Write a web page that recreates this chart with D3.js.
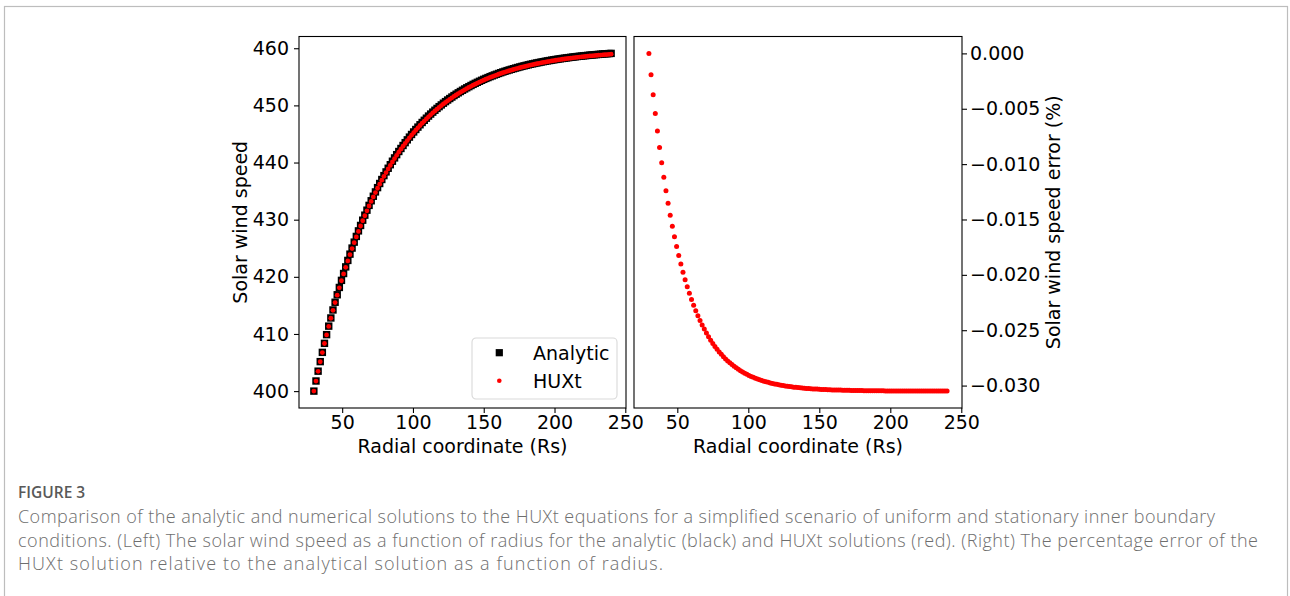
<!DOCTYPE html>
<html>
<head>
<meta charset="utf-8">
<script src="https://cdn.jsdelivr.net/npm/d3@7"></script>
<style>
  body { margin: 0; background: #fff; }
  .axis text { font-family: 'DejaVu Sans', sans-serif; font-size: 19px; fill: #000; }
  .axis line { stroke: #000; stroke-width: 1.1; }
  .caption { font-family: 'Open Sans', sans-serif; }
</style>
</head>
<body>
<div id="chart"></div>
<script>
// radial grid of the model (Rs)
var radius = [
  30, 31.5, 33, 34.5, 36, 37.5, 39, 40.5, 42, 43.5,
  45, 46.5, 48, 49.5, 51, 52.5, 54, 55.5, 57, 58.5,
  60, 61.5, 63, 64.5, 66, 67.5, 69, 70.5, 72, 73.5,
  75, 76.5, 78, 79.5, 81, 82.5, 84, 85.5, 87, 88.5,
  90, 91.5, 93, 94.5, 96, 97.5, 99, 100.5, 102, 103.5,
  105, 106.5, 108, 109.5, 111, 112.5, 114, 115.5, 117, 118.5,
  120, 121.5, 123, 124.5, 126, 127.5, 129, 130.5, 132, 133.5,
  135, 136.5, 138, 139.5, 141, 142.5, 144, 145.5, 147, 148.5,
  150, 151.5, 153, 154.5, 156, 157.5, 159, 160.5, 162, 163.5,
  165, 166.5, 168, 169.5, 171, 172.5, 174, 175.5, 177, 178.5,
  180, 181.5, 183, 184.5, 186, 187.5, 189, 190.5, 192, 193.5,
  195, 196.5, 198, 199.5, 201, 202.5, 204, 205.5, 207, 208.5,
  210, 211.5, 213, 214.5, 216, 217.5, 219, 220.5, 222, 223.5,
  225, 226.5, 228, 229.5, 231, 232.5, 234, 235.5, 237, 238.5,
  240
];

var analyticSpeed = [
  400.00, 401.77, 403.49, 405.16, 406.78, 408.36, 409.88, 411.37, 412.80, 414.20,
  415.55, 416.86, 418.14, 419.38, 420.58, 421.74, 422.87, 423.97, 425.03, 426.07,
  427.07, 428.04, 428.99, 429.91, 430.79, 431.66, 432.50, 433.31, 434.10, 434.86,
  435.61, 436.33, 437.03, 437.71, 438.36, 439.00, 439.62, 440.23, 440.81, 441.38,
  441.93, 442.46, 442.98, 443.48, 443.97, 444.45, 444.91, 445.35, 445.78, 446.20,
  446.61, 447.01, 447.39, 447.76, 448.13, 448.48, 448.82, 449.15, 449.47, 449.78,
  450.08, 450.38, 450.66, 450.94, 451.20, 451.46, 451.72, 451.96, 452.20, 452.43,
  452.65, 452.87, 453.08, 453.28, 453.48, 453.68, 453.86, 454.04, 454.22, 454.39,
  454.56, 454.72, 454.87, 455.03, 455.17, 455.32, 455.45, 455.59, 455.72, 455.85,
  455.97, 456.09, 456.20, 456.31, 456.42, 456.53, 456.63, 456.73, 456.83, 456.92,
  457.01, 457.10, 457.19, 457.27, 457.35, 457.43, 457.50, 457.58, 457.65, 457.72,
  457.79, 457.85, 457.92, 457.98, 458.04, 458.10, 458.15, 458.21, 458.26, 458.31,
  458.36, 458.41, 458.46, 458.50, 458.55, 458.59, 458.63, 458.67, 458.71, 458.75,
  458.79, 458.82, 458.86, 458.89, 458.92, 458.95, 458.99, 459.02, 459.04, 459.07,
  459.10
];

var huxtSpeed = [
  400.00, 401.76, 403.47, 405.14, 406.75, 408.33, 409.84, 411.32, 412.75, 414.14,
  415.49, 416.79, 418.07, 419.31, 420.50, 421.66, 422.79, 423.88, 424.94, 425.98,
  426.98, 427.94, 428.89, 429.81, 430.69, 431.55, 432.39, 433.20, 433.99, 434.75,
  435.50, 436.21, 436.91, 437.59, 438.24, 438.88, 439.50, 440.11, 440.69, 441.26,
  441.81, 442.33, 442.85, 443.35, 443.84, 444.32, 444.78, 445.22, 445.65, 446.07,
  446.48, 446.88, 447.26, 447.63, 448.00, 448.35, 448.69, 449.02, 449.34, 449.65,
  449.95, 450.25, 450.52, 450.80, 451.06, 451.32, 451.58, 451.82, 452.06, 452.29,
  452.51, 452.73, 452.94, 453.14, 453.34, 453.54, 453.72, 453.90, 454.08, 454.25,
  454.42, 454.58, 454.73, 454.89, 455.03, 455.18, 455.31, 455.45, 455.58, 455.71,
  455.83, 455.95, 456.06, 456.17, 456.28, 456.39, 456.49, 456.59, 456.69, 456.78,
  456.87, 456.96, 457.05, 457.13, 457.21, 457.29, 457.36, 457.44, 457.51, 457.58,
  457.65, 457.71, 457.78, 457.84, 457.90, 457.96, 458.01, 458.07, 458.12, 458.17,
  458.22, 458.27, 458.32, 458.36, 458.41, 458.45, 458.49, 458.53, 458.57, 458.61,
  458.65, 458.68, 458.72, 458.75, 458.78, 458.81, 458.85, 458.88, 458.90, 458.93,
  458.96
];

// percentage error of HUXt relative to the analytic solution
var speedError = [
  0, -0.00193, -0.00373, -0.00542, -0.00700, -0.00849, -0.00988, -0.01118, -0.01240, -0.01354,
  -0.01461, -0.01562, -0.01656, -0.01744, -0.01826, -0.01903, -0.01976, -0.02044, -0.02107, -0.02167,
  -0.02222, -0.02275, -0.02324, -0.02370, -0.02412, -0.02453, -0.02490, -0.02526, -0.02559, -0.02590,
  -0.02619, -0.02646, -0.02672, -0.02696, -0.02718, -0.02739, -0.02759, -0.02777, -0.02794, -0.02810,
  -0.02825, -0.02840, -0.02853, -0.02865, -0.02877, -0.02888, -0.02898, -0.02908, -0.02917, -0.02925,
  -0.02933, -0.02940, -0.02947, -0.02954, -0.02960, -0.02966, -0.02971, -0.02976, -0.02981, -0.02985,
  -0.02989, -0.02993, -0.02997, -0.03000, -0.03003, -0.03006, -0.03009, -0.03011, -0.03014, -0.03016,
  -0.03018, -0.03020, -0.03022, -0.03024, -0.03026, -0.03027, -0.03029, -0.03030, -0.03031, -0.03032,
  -0.03033, -0.03035, -0.03035, -0.03036, -0.03037, -0.03038, -0.03039, -0.03040, -0.03040, -0.03041,
  -0.03041, -0.03042, -0.03042, -0.03043, -0.03043, -0.03044, -0.03044, -0.03044, -0.03045, -0.03045,
  -0.03045, -0.03046, -0.03046, -0.03046, -0.03046, -0.03046, -0.03047, -0.03047, -0.03047, -0.03047,
  -0.03047, -0.03048, -0.03048, -0.03048, -0.03048, -0.03048, -0.03048, -0.03048, -0.03049, -0.03049,
  -0.03049, -0.03049, -0.03049, -0.03049, -0.03049, -0.03049, -0.03049, -0.03049, -0.03049, -0.03050,
  -0.03050, -0.03050, -0.03050, -0.03050, -0.03050, -0.03050, -0.03050, -0.03050, -0.03050, -0.03050,
  -0.03050
];

var xTicks = [50, 100, 150, 200, 250];
var speedTicks = [400, 410, 420, 430, 440, 450, 460];
var errorTicks = [0, -0.005, -0.010, -0.015, -0.020, -0.025, -0.030];
var legendLabels = ['Analytic', 'HUXt'];

var captionTitle = 'FIGURE 3';
var captionLines = [
  'Comparison of the analytic and numerical solutions to the HUXt equations for a simplified scenario of uniform and stationary inner boundary',
  'conditions. (Left) The solar wind speed as a function of radius for the analytic (black) and HUXt solutions (red). (Right) The percentage error of the',
  'HUXt solution relative to the analytical solution as a function of radius.'
];
// line widths as they appear in the figure
var captionWidths = [1197, 1240, 645];

var width = 1290, height = 596;
var panelTop = 36.5, panelBottom = 408;
var leftPanel = { x0: 299, x1: 626 };
var rightPanel = { x0: 634, x1: 962 };
var labelFont = '19px';

// matplotlib style 5% margins around the data
function padded(values) {
    var ext = d3.extent(values);
    var pad = (ext[1] - ext[0]) * 0.05;
    return [ext[0] - pad, ext[1] + pad];
}

var svg = d3.select('#chart').append('svg')
    .attr('width', width)
    .attr('height', height);

svg.append('rect')
    .attr('x', 4.5).attr('y', 6.5)
    .attr('width', 1283).attr('height', 620)
    .attr('fill', '#fff')
    .attr('stroke', '#bdbdbd')
    .attr('stroke-width', 1.2);

var rows = radius.map(function (r, i) {
    return { r: r, analytic: analyticSpeed[i], huxt: huxtSpeed[i], err: speedError[i] };
});

var xLeft = d3.scaleLinear().domain(padded(radius)).range([leftPanel.x0, leftPanel.x1]);
var xRight = d3.scaleLinear().domain(padded(radius)).range([rightPanel.x0, rightPanel.x1]);
var ySpeed = d3.scaleLinear().domain(padded(analyticSpeed.concat(huxtSpeed))).range([panelBottom, panelTop]);
var yError = d3.scaleLinear().domain(padded(speedError)).range([panelBottom, panelTop]);

function styleAxis(g) {
    g.select('.domain').remove();
    g.attr('class', 'axis');
}

function label(g, text) {
    return g.append('text')
        .attr('text-anchor', 'middle')
        .style('font-family', 'DejaVu Sans, sans-serif')
        .style('font-size', labelFont)
        .text(text);
}

// ---- left panel: speed vs radius
var gl = svg.append('g');

gl.append('g')
    .attr('transform', 'translate(0,' + panelBottom + ')')
    .call(d3.axisBottom(xLeft).tickValues(xTicks).tickSize(5).tickPadding(3).tickFormat(d3.format('d')))
    .call(styleAxis);

gl.append('g')
    .attr('transform', 'translate(' + leftPanel.x0 + ',0)')
    .call(d3.axisLeft(ySpeed).tickValues(speedTicks).tickSize(5).tickPadding(5).tickFormat(d3.format('d')))
    .call(styleAxis);

var sq = 7.4;
gl.append('g').selectAll('rect')
    .data(rows)
    .enter().append('rect')
    .attr('x', function (d) { return xLeft(d.r) - sq / 2; })
    .attr('y', function (d) { return ySpeed(d.analytic) - sq / 2; })
    .attr('width', sq).attr('height', sq)
    .attr('fill', '#000');

gl.append('g').selectAll('circle')
    .data(rows)
    .enter().append('circle')
    .attr('cx', function (d) { return xLeft(d.r); })
    .attr('cy', function (d) { return ySpeed(d.huxt); })
    .attr('r', 2.4)
    .attr('fill', '#ff0000');

gl.append('rect')
    .attr('x', leftPanel.x0).attr('y', panelTop)
    .attr('width', leftPanel.x1 - leftPanel.x0).attr('height', panelBottom - panelTop)
    .attr('fill', 'none').attr('stroke', '#000').attr('stroke-width', 1.1);

// legend
var lg = gl.append('g').attr('transform', 'translate(472,338)');
lg.append('rect')
    .attr('width', 145).attr('height', 61).attr('rx', 4)
    .attr('fill', '#fff').attr('fill-opacity', 0.8)
    .attr('stroke', '#d9d9d9').attr('stroke-width', 1.1);
lg.append('rect')
    .attr('x', 27.3 - 3.6).attr('y', 14.7 - 3.6)
    .attr('width', 7.2).attr('height', 7.2).attr('fill', '#000');
lg.append('circle')
    .attr('cx', 27.3).attr('cy', 42.7).attr('r', 2.3).attr('fill', '#ff0000');
lg.selectAll('text.leg')
    .data(legendLabels)
    .enter().append('text')
    .attr('class', 'leg')
    .attr('x', 61)
    .attr('y', function (d, i) { return 21.5 + i * 28; })
    .style('font-family', 'DejaVu Sans, sans-serif')
    .style('font-size', labelFont)
    .text(function (d) { return d; });

label(gl, 'Radial coordinate (Rs)')
    .attr('x', (leftPanel.x0 + leftPanel.x1) / 2).attr('y', 453);

label(gl, 'Solar wind speed')
    .attr('transform', 'translate(247,' + (panelTop + panelBottom) / 2 + ') rotate(-90)');

// ---- right panel: error vs radius
var gr = svg.append('g');

gr.append('g')
    .attr('transform', 'translate(0,' + panelBottom + ')')
    .call(d3.axisBottom(xRight).tickValues(xTicks).tickSize(5).tickPadding(3).tickFormat(d3.format('d')))
    .call(styleAxis);

gr.append('g')
    .attr('transform', 'translate(' + rightPanel.x1 + ',0)')
    .call(d3.axisRight(yError).tickValues(errorTicks).tickSize(5).tickPadding(3).tickFormat(d3.format('.3f')))
    .call(styleAxis);

gr.append('g').selectAll('circle')
    .data(rows)
    .enter().append('circle')
    .attr('cx', function (d) { return xRight(d.r); })
    .attr('cy', function (d) { return yError(d.err); })
    .attr('r', 2.5)
    .attr('fill', '#ff0000');

gr.append('rect')
    .attr('x', rightPanel.x0).attr('y', panelTop)
    .attr('width', rightPanel.x1 - rightPanel.x0).attr('height', panelBottom - panelTop)
    .attr('fill', 'none').attr('stroke', '#000').attr('stroke-width', 1.1);

label(gr, 'Radial coordinate (Rs)')
    .attr('x', (rightPanel.x0 + rightPanel.x1) / 2).attr('y', 453);

label(gr, 'Solar wind speed error (%)')
    .attr('transform', 'translate(1060,' + (panelTop + panelBottom) / 2 + ') rotate(-90)');

// ---- caption
svg.append('text')
    .attr('class', 'caption')
    .attr('x', 18).attr('y', 498)
    .style('font-size', '15.5px').style('font-weight', 600)
    .attr('fill', '#595959')
    .text(captionTitle);

svg.selectAll('text.capline')
    .data(captionLines)
    .enter().append('text')
    .attr('class', 'caption capline')
    .attr('x', 18)
    .attr('y', function (d, i) { return 523 + i * 23.5; })
    .attr('textLength', function (d, i) { return captionWidths[i]; })
    .attr('lengthAdjust', 'spacing')
    .style('font-size', '18px').style('font-weight', 300)
    .attr('fill', '#6e6e6e')
    .text(function (d) { return d; });
</script>
</body>
</html>
